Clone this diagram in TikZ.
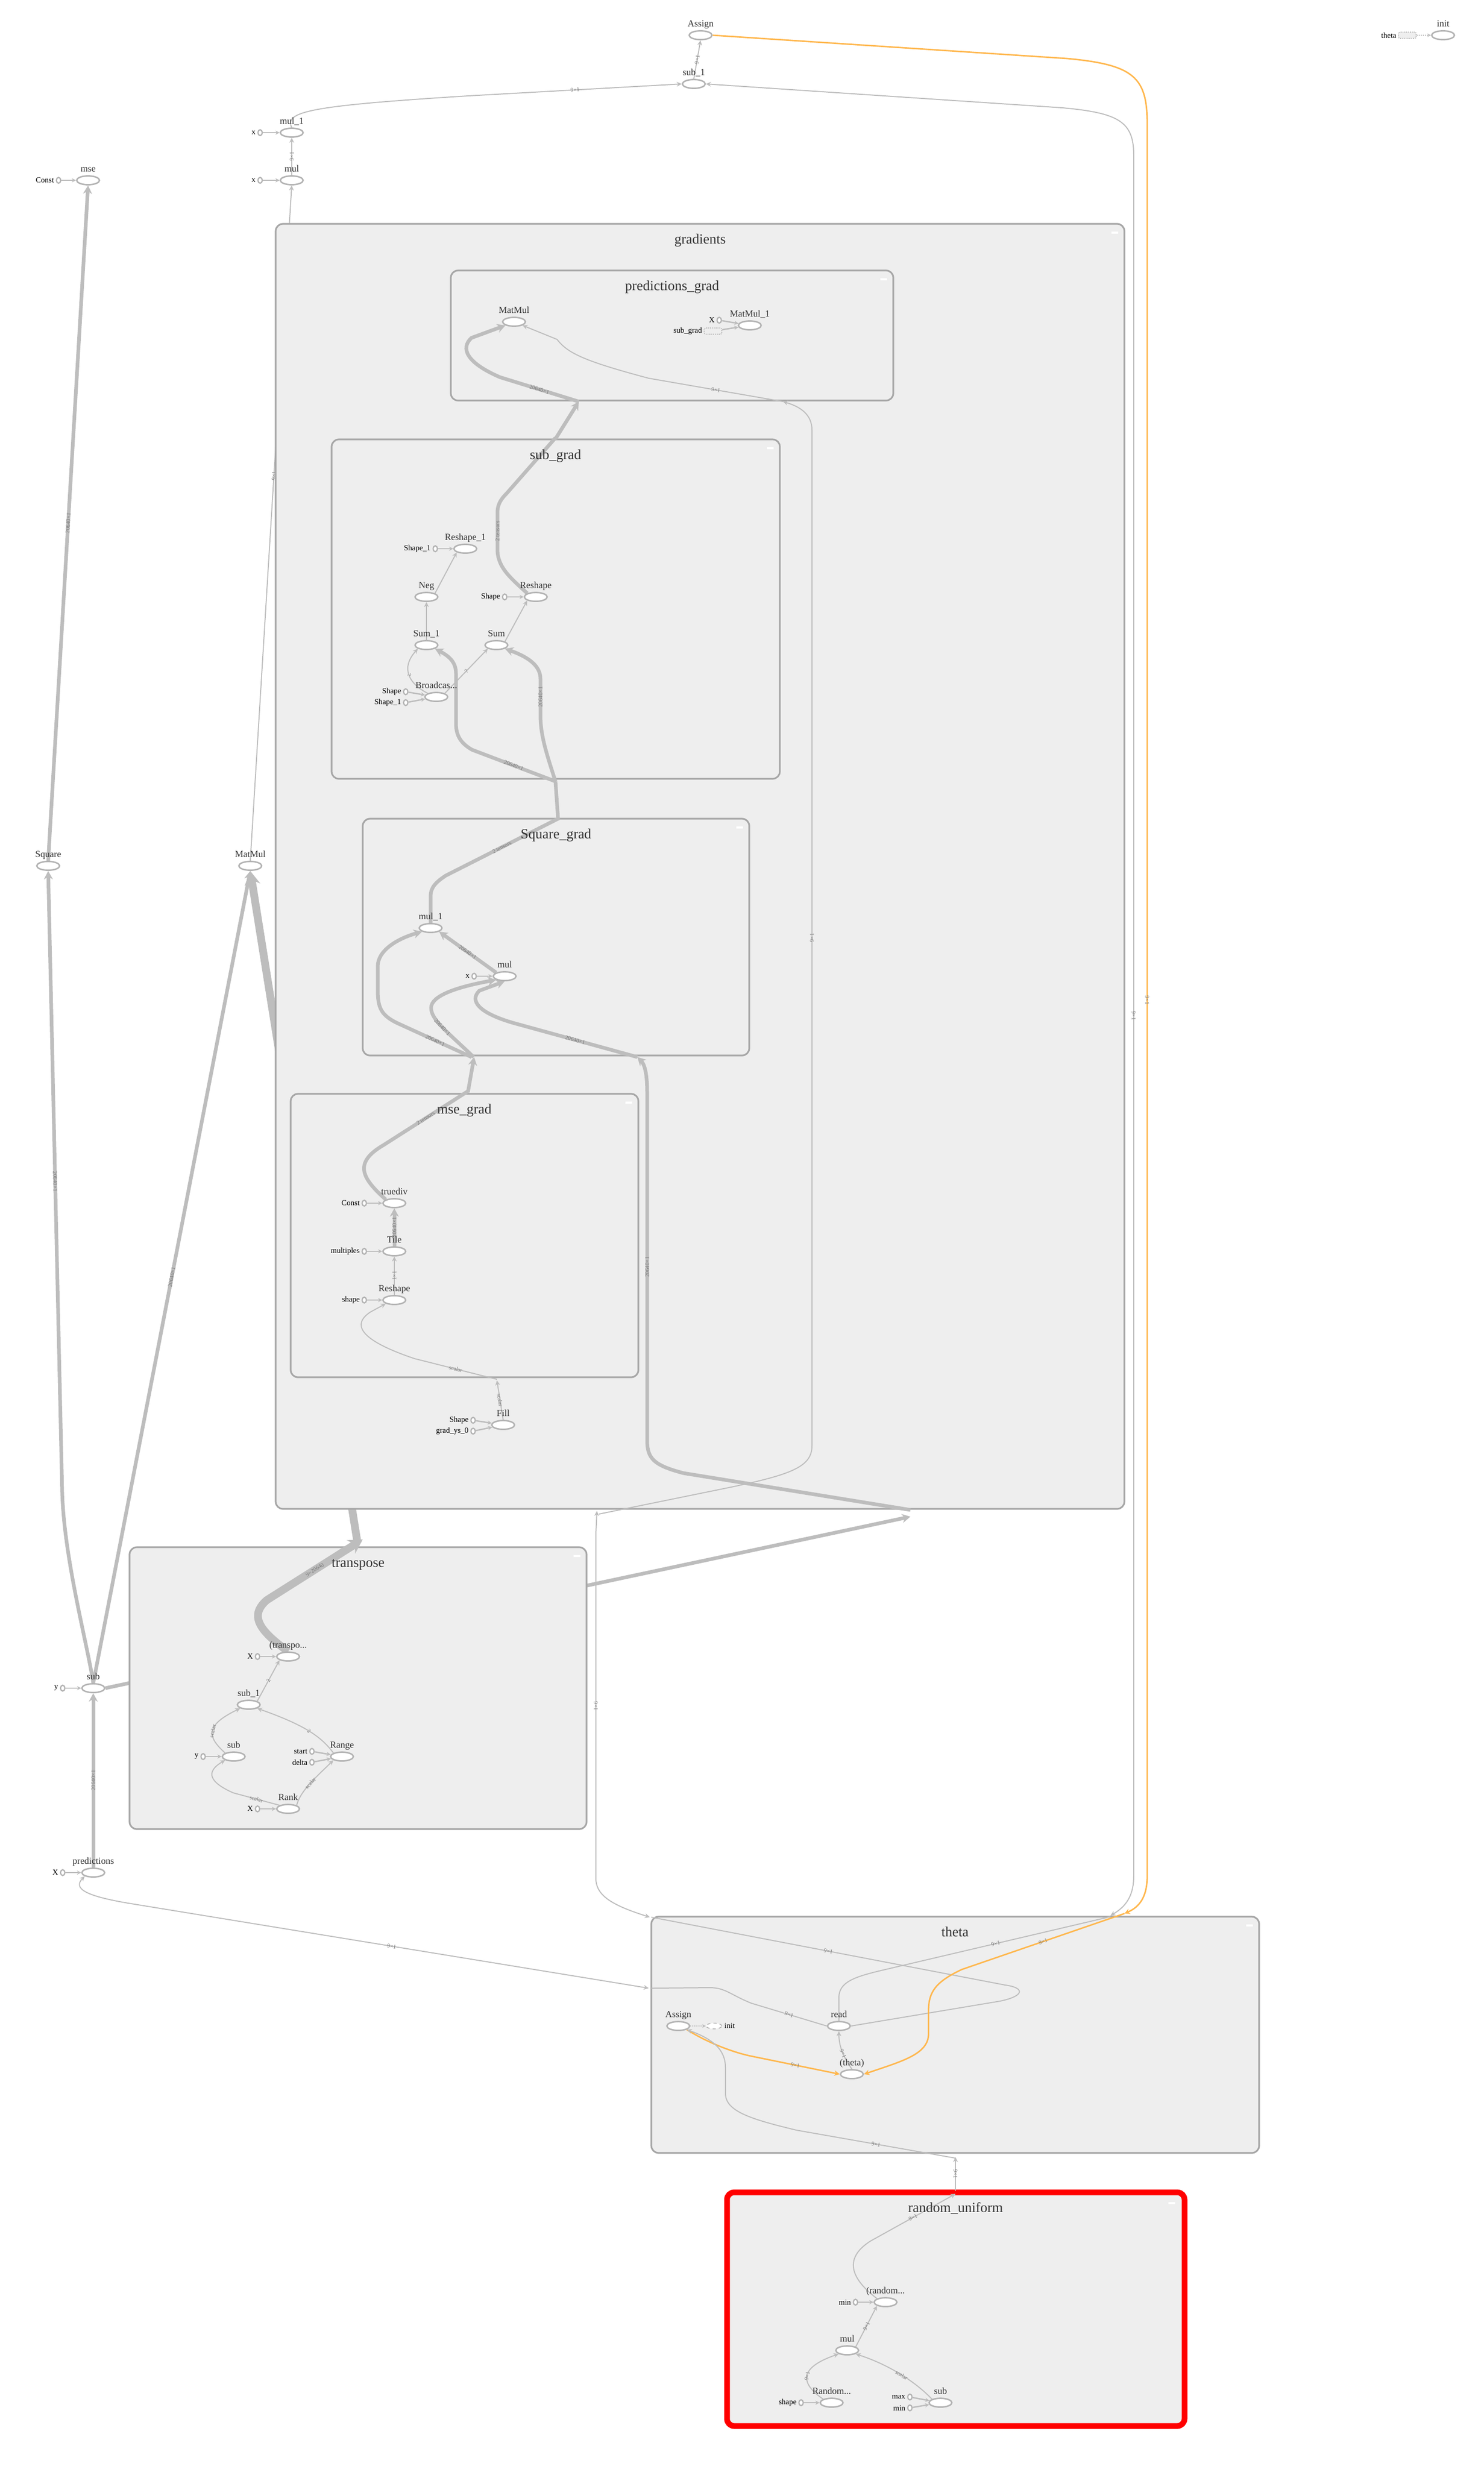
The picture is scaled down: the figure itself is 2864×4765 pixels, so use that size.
\documentclass[tikz,border=0pt]{standalone}
\usepackage{fontspec}
\setmainfont{Liberation Serif}
\usetikzlibrary{arrows.meta,shapes.geometric}
\definecolor{edgec}{HTML}{BDBDBD}
\definecolor{boxfill}{HTML}{EEEEEE}
\definecolor{boxline}{HTML}{A6A6A6}
\definecolor{nodeline}{HTML}{B3B3B3}
\definecolor{orng}{HTML}{FFB74D}
\definecolor{txt}{HTML}{333333}
\definecolor{elc}{HTML}{7A7A7A}
\pgfdeclarelayer{layA}
\pgfdeclarelayer{layB}
\pgfdeclarelayer{layC}
\pgfdeclarelayer{layD}
\pgfdeclarelayer{layE}
\pgfsetlayers{layA,layB,layC,layD,layE,main}
\tikzset{
 op/.style={ellipse, draw=nodeline, line width=1.4pt, fill=white, minimum width=22pt, minimum height=8.5pt, inner sep=0pt},
 cst/.style={ellipse, draw=nodeline, line width=1.2pt, fill=white, minimum width=4.2pt, minimum height=5.6pt, inner sep=0pt},
 dell/.style={ellipse, draw=nodeline, dashed, line width=0.8pt, fill=white, minimum width=15pt, minimum height=5.5pt, inner sep=0pt},
 ctl/.style={rectangle, rounded corners=1.5pt, draw=nodeline, densely dotted, line width=0.8pt, fill=boxfill, minimum width=17pt, minimum height=6pt, inner sep=0pt},
 lbl/.style={font=\fontsize{9}{10}\selectfont, text=txt, inner sep=0pt},
 cl/.style={font=\fontsize{7.5}{9}\selectfont, text=black, inner sep=0pt},
 ttl/.style={font=\fontsize{13.5}{15}\selectfont, text=txt, inner sep=0pt, anchor=base},
 el/.style={font=\fontsize{5.5}{6}\selectfont, text=elc, inner sep=0.5pt, sloped},
 arrowend/.style={-{Stealth[length=3.5pt 1.3, width=3pt 1.6]}},
 arrowboth/.style={{Stealth[length=3.5pt 1.3, width=3pt 1.6]}-{Stealth[length=3.5pt 1.3, width=3pt 1.6]}},
 arrowstart/.style={{Stealth[length=3.5pt 1.3, width=3pt 1.6]}-},
 ethin/.style={draw=edgec, line width=1pt},
 ethick/.style={draw=edgec, line width=3.5pt},
 ehuge/.style={draw=edgec, line width=7.5pt},
 eorg/.style={draw=orng, line width=1.4pt},
 ce/.style={draw=edgec, line width=1.3pt, -{Stealth[length=4pt, width=4pt]}},
 ctle/.style={draw=edgec, line width=1pt, densely dotted, -{Stealth[length=3.5pt, width=3.5pt]}},
 grp/.style={draw=boxline, line width=1.6pt, fill=boxfill, rounded corners=7pt},
 redgrp/.style={draw=red, line width=5.5pt, fill=boxfill, rounded corners=7pt},
}
\newcommand\opn[4]{\node[op] (#1) at (#2,#3) {};
 \node[lbl, anchor=base] at ([yshift=8.5pt]#1.center) {#4};}
\newcommand\cin[5]{\node[cst] (#1) at (#2,#3) {};
 \node[cl, anchor=east] at ([xshift=-1.5pt]#1.west) {#4};
 \draw[ce] (#1) -- (#5);}
\newcommand\minus[2]{\fill[white] (#1-25,#2+15) rectangle (#1-12,#2+19);}
\begin{document}
\begin{tikzpicture}[x=0.5pt,y=-0.5pt]
\useasboundingbox (0,0) rectangle (2864,4765);
% ---------------- nodes (main layer)
\opn{Assign}{1352}{68}{Assign}
\opn{init}{2785}{68}{init}
\node[ctl] (thctl) at (2716,68) {};
\node[cl, anchor=east] at ([xshift=-1.5pt]thctl.west) {theta};
\draw[ctle] (thctl) -- (init);
\opn{subA}{1339}{162}{sub\_1}
\opn{mulA}{563}{256}{mul\_1}
\opn{mulB}{563}{348}{mul}
\opn{mse}{170}{348}{mse}
\cin{c1}{502}{256}{x}{mulA}
\cin{c2}{502}{348}{x}{mulB}
\cin{c3}{113}{348}{Const}{mse}
\opn{Square}{93}{1671}{Square}
\opn{MatMul}{483}{1671}{MatMul}
\opn{sub}{180}{3258}{sub}
\cin{c4}{121}{3258}{y}{sub}
\opn{pred}{180}{3614}{predictions}
\cin{c5}{121}{3614}{X}{pred}
% predictions_grad
\opn{pgMM}{992}{621}{MatMul}
\opn{pgMM1}{1447}{628}{MatMul\_1}
\cin{c6}{1388}{618}{X}{pgMM1}
\node[ctl] (sgref) at (1376,639) {};
\node[cl, anchor=east] at ([xshift=-1.5pt]sgref.west) {sub\_grad};
\draw[ce] (sgref) -- (pgMM1);
% sub_grad
\opn{sgR1}{898}{1059}{Reshape\_1}
\cin{c7}{840}{1059}{Shape\_1}{sgR1}
\opn{sgNeg}{823}{1152}{Neg}
\opn{sgR}{1034}{1152}{Reshape}
\cin{c8}{974}{1152}{Shape}{sgR}
\opn{sgS1}{823}{1245}{Sum\_1}
\opn{sgS}{958}{1245}{Sum}
\opn{sgB}{842}{1345}{Broadcas...}
\cin{c9}{783}{1335}{Shape}{sgB}
\cin{c10}{783}{1356}{Shape\_1}{sgB}
% Square_grad
\opn{sqM1}{831}{1791}{mul\_1}
\opn{sqM}{974}{1884}{mul}
\cin{c11}{915}{1884}{x}{sqM}
% mse_grad
\opn{mgT}{761}{2322}{truediv}
\cin{c12}{703}{2322}{Const}{mgT}
\opn{mgTile}{761}{2415}{Tile}
\cin{c13}{703}{2415}{multiples}{mgTile}
\opn{mgR}{761}{2509}{Reshape}
\cin{c14}{703}{2509}{shape}{mgR}
\opn{fill}{971}{2750}{Fill}
\cin{c15}{913}{2741}{Shape}{fill}
\cin{c16}{913}{2762}{grad\_ys\_0}{fill}
% transpose
\opn{tT}{556}{3197}{(transpo...}
\cin{c17}{497}{3197}{X}{tT}
\opn{tS1}{480}{3290}{sub\_1}
\opn{tS}{451}{3390}{sub}
\cin{c18}{392}{3390}{y}{tS}
\opn{tRange}{660}{3390}{Range}
\cin{c19}{602}{3380}{start}{tRange}
\cin{c20}{602}{3401}{delta}{tRange}
\opn{tRank}{556}{3491}{Rank}
\cin{c21}{497}{3491}{X}{tRank}
% theta
\opn{thA}{1309}{3910}{Assign}
\node[dell] (thinit) at (1378,3910) {};
\node[cl, anchor=west] at ([xshift=2pt]thinit.east) {init};
\draw[ctle] (thA) -- (thinit);
\opn{thR}{1619}{3910}{read}
\opn{thT}{1644}{4003}{(theta)}
% random_uniform
\opn{ruR}{1709}{4443}{(random...}
\cin{c22}{1651}{4443}{min}{ruR}
\opn{ruM}{1635}{4536}{mul}
\opn{ruRand}{1605}{4637}{Random...}
\cin{c23}{1546}{4637}{shape}{ruRand}
\opn{ruS}{1815}{4637}{sub}
\cin{c24}{1756}{4626}{max}{ruS}
\cin{c25}{1756}{4647}{min}{ruS}
% titles
\node[ttl] at (1351,470) {gradients};
\node[ttl] at (1297,560) {predictions\_grad};
\node[ttl] at (1072,886) {sub\_grad};
\node[ttl] at (1073,1618) {Square\_grad};
\node[ttl] at (896,2149) {mse\_grad};
\node[ttl] at (691,3024) {transpose};
\node[ttl] at (1843,3737) {theta};
\node[ttl] at (1844,4269) {random\_uniform};

% ---------------- layer A: background and edges hidden behind boxes
\begin{pgfonlayer}{layA}
\fill[white] (0,0) rectangle (2864,4765);
\draw[ethin,arrowend] (MatMul.north) -- node[el,pos=0.57]{9×1} (mulB.south);
\draw[ethick,arrowend] (sub.east) -- (1757,2927);
\end{pgfonlayer}
% ---------------- layer B: transpose box
\begin{pgfonlayer}{layB}
\draw[grp] (250,2986) rectangle (1132,3530);
\minus{1132}{2986}
\end{pgfonlayer}
% ---------------- layer C: transpose -> MatMul
\begin{pgfonlayer}{layC}
\draw[ehuge,arrowend] (tT.north) .. controls (505,3150) and (478,3120) .. (515,3088) -- node[el]{9×20640} (700,2971);
\draw[ehuge,arrowend] (690,2978) -- (MatMul.south);
\end{pgfonlayer}
% ---------------- layer D: other boxes
\begin{pgfonlayer}{layD}
\draw[grp] (532,432) rectangle (2170,2912); \minus{2170}{432}
\draw[grp] (870,522) rectangle (1724,773); \minus{1724}{522}
\draw[grp] (640,848) rectangle (1505,1503); \minus{1505}{848}
\draw[grp] (700,1580) rectangle (1446,2037); \minus{1446}{1580}
\draw[grp] (561,2111) rectangle (1232,2658); \minus{1232}{2111}
\draw[grp] (1257,3699) rectangle (2430,4155); \minus{2430}{3699}
\draw[redgrp] (1403,4231) rectangle (2286,4682); \minus{2280}{4235}
\end{pgfonlayer}
% ---------------- layer E: edges
\begin{pgfonlayer}{layE}
% top
\draw[ethin,arrowend] (subA.north) -- node[el]{9×1} (Assign.south);
\draw[ethin,arrowend] (mulA.north) .. controls (548,215) and (600,204) .. (904,185) -- node[el]{9×1} (subA.west);
\draw[ethin,arrowend] (mulB.north) -- node[el]{9×1} (mulA.south);
\draw[ethin,arrowboth] (subA.east) -- (2050,208) .. controls (2160,218) and (2188,235) .. (2188,300) -- node[el]{9×1} (2188,3620) .. controls (2188,3660) and (2172,3680) .. (2143,3697);
\draw[eorg,arrowend] (Assign.east) -- (2060,113) .. controls (2190,125) and (2214,150) .. (2214,240) -- node[el]{9×1} (2214,3620) .. controls (2214,3660) and (2200,3680) .. (2170,3693);
% left column
\draw[ethick,arrowend] (Square.north) -- node[el]{20640×1} (mse.south);
\draw[ethick,arrowend] (sub.north) .. controls (168,3170) and (124,3010) .. (120,2880) -- node[el]{20640×1} (Square.south);
\draw[ethick,arrowend] (sub.north) -- node[el]{20640×1} (MatMul.south);
\draw[ethick,arrowend] (pred.north) -- node[el]{20640×1} (sub.south);
% theta related
\draw[ethin,arrowboth] (pred.south west) .. controls (140,3645) and (165,3660) .. (260,3675) -- node[el]{9×1} (1252,3837);
\draw[ethin] (thR.west) -- node[el]{9×1} (1450,3866) .. controls (1410,3850) and (1400,3836) .. (1370,3836) -- (1257,3837);
\draw[ethin,arrowboth] (1152,2916) -- (1150,2960) -- node[el]{9×1} (1150,3625) .. controls (1150,3660) and (1185,3678) .. (1254,3700);
\draw[ethin,arrowend] (1156,2922) -- (1411,2870) .. controls (1530,2845) and (1567,2830) .. (1567,2790) -- node[el]{9×1} (1567,830) .. controls (1567,800) and (1545,785) .. (1511,775);
\draw[ethin] (thR.east) -- (1930,3862) .. controls (1978,3852) and (1978,3836) .. (1940,3831) -- node[el]{9×1} (1257,3700);
\draw[ethin] (thR.north) -- (1619,3855) .. controls (1619,3825) and (1650,3815) .. (1700,3803) -- node[el]{9×1} (2143,3699);
\draw[eorg,arrowend] (2170,3693) -- node[el]{9×1} (1856,3801) .. controls (1805,3825) and (1792,3845) .. (1792,3880) -- (1792,3925) .. controls (1792,3965) and (1740,3978) .. (thT.east);
\draw[eorg,arrowend] (thA.south east) .. controls (1370,3945) and (1420,3962) .. (1449,3968) -- node[el]{9×1} (thT.west);
\draw[ethin,arrowend] (thT.north) .. controls (1632,3975) and (1619,3955) .. node[el]{9×1} (thR.south);
\draw[ethin,arrowstart] (1844,4163) -- node[el]{9×1} (1844,4228);
\draw[ethin,arrowend] (1844,4165) -- node[el]{9×1} (1537,4111) .. controls (1450,4090) and (1400,4075) .. (1400,4040) -- (1400,3990) .. controls (1400,3955) and (1375,3935) .. (thA.south east);
% random_uniform
\draw[ethin,arrowend] (ruR.north west) .. controls (1645,4400) and (1625,4360) .. (1680,4325) -- node[el]{9×1} (1844,4234);
\draw[ethin,arrowend] (ruM.north east) -- node[el]{9×1} (ruR.south west);
\draw[ethin,arrowend] (ruRand.north west) .. controls (1545,4600) and (1540,4570) .. node[el]{9×1} (ruM.south west);
\draw[ethin,arrowend] (ruS.north west) .. controls (1770,4600) and (1720,4565) .. node[el]{scalar} (ruM.south east);
% transpose inner
\draw[ethin,arrowend] (tS1.north east) -- node[el]{2} (tT.south west);
\draw[ethin,arrowend] (tS.north west) .. controls (400,3352) and (395,3330) .. node[el]{scalar} (tS1.south west);
\draw[ethin,arrowend] (tRange.north west) .. controls (620,3352) and (590,3330) .. node[el]{2} (tS1.south east);
\draw[ethin,arrowend] (tRank.north west) -- node[el]{scalar} (450,3460) .. controls (405,3440) and (395,3420) .. (tS.south west);
\draw[ethin,arrowend] (tRank.north east) .. controls (580,3455) and (612,3428) .. node[el]{scalar} (tRange.south west);
% Fill -> mse_grad
\draw[ethin,arrowend] (fill.north) -- node[el]{scalar} (959,2664);
\draw[ethin,arrowend] (959,2662) -- node[el]{scalar} (800,2622) .. controls (690,2585) and (680,2555) .. (715,2532) -- (mgR.south west);
% mse_grad inner
\draw[ethin,arrowend] (mgR.north) -- node[el]{1×1} (mgTile.south);
\draw[ethick,arrowend] (mgTile.north) -- node[el]{20640×1} (mgT.south);
\draw[ethick] (mgT.north west) .. controls (700,2275) and (680,2245) .. (740,2210) -- node[el]{2 tensors} (903,2106);
\draw[ethick,arrowend] (903,2108) -- (915,2040);
% Square_grad inner
\draw[ethick,arrowend] (910,2040) -- node[el]{20640×1} (770,1976) .. controls (735,1960) and (729,1945) .. (729,1910) -- (729,1865) .. controls (729,1835) and (765,1812) .. (sqM1.south west);
\draw[ethick,arrowend] (914,2040) .. controls (862,1990) and (832,1968) .. node[el]{20640×1} (832,1945) .. controls (832,1922) and (880,1905) .. (sqM.south west);
\draw[ethick,arrowend] (sqM.north west) -- node[el]{20640×1} (sqM1.south east);
\draw[ethick,arrowend] (1757,2914) -- (1319,2843) .. controls (1262,2828) and (1249,2815) .. (1249,2780) -- node[el]{20640×1} (1249,2110) .. controls (1249,2075) and (1245,2055) .. (1230,2040);
\draw[ethick,arrowend] (1230,2040) -- node[el]{20640×1} (990,1974) .. controls (925,1955) and (905,1932) .. (925,1912) -- (sqM.south);
\draw[ethick] (sqM1.north) -- (831,1730) .. controls (831,1712) and (842,1702) .. (860,1690) -- node[el]{2 tensors} (1077,1580) -- (1072,1508);
% sub_grad inner
\draw[ethick,arrowend] (1072,1508) -- node[el]{20640×1} (911,1447) .. controls (885,1432) and (880,1415) .. (880,1395) -- (880,1300) .. controls (880,1280) and (870,1268) .. (sgS1.south east);
\draw[ethick,arrowend] (1072,1508) .. controls (1055,1455) and (1043,1420) .. (1043,1380) -- node[el]{20640×1} (1043,1310) .. controls (1043,1285) and (1020,1268) .. (sgS.south east);
\draw[ethin,arrowend] (sgB.north west) .. controls (790,1320) and (772,1290) .. node[el]{?} (sgS1.south west);
\draw[ethin,arrowend] (sgB.north east) -- node[el]{?} (sgS.south west);
\draw[ethin,arrowend] (sgS1.north) -- (sgNeg.south);
\draw[ethin,arrowend] (sgNeg.north east) -- (sgR1.south west);
\draw[ethin,arrowend] (sgS.north east) -- (sgR.south west);
\draw[ethick] (sgR.north west) .. controls (985,1115) and (960,1095) .. (960,1060) -- node[el]{2 tensors} (960,990) .. controls (960,975) and (965,965) .. (978,952) -- (1072,845);
\draw[ethick,arrowend] (1072,847) -- (1117,775);
% predictions_grad inner
\draw[ethick,arrowend] (1117,775) -- node[el]{20640×1} (965,728) .. controls (900,700) and (888,672) .. (910,652) -- (pgMM.south west);
\draw[ethin,arrowend] (1511,775) -- node[el]{9×1} (1252,730) .. controls (1120,695) and (1095,680) .. (1075,655) -- (pgMM.south east);
\end{pgfonlayer}
\end{tikzpicture}
\end{document}
